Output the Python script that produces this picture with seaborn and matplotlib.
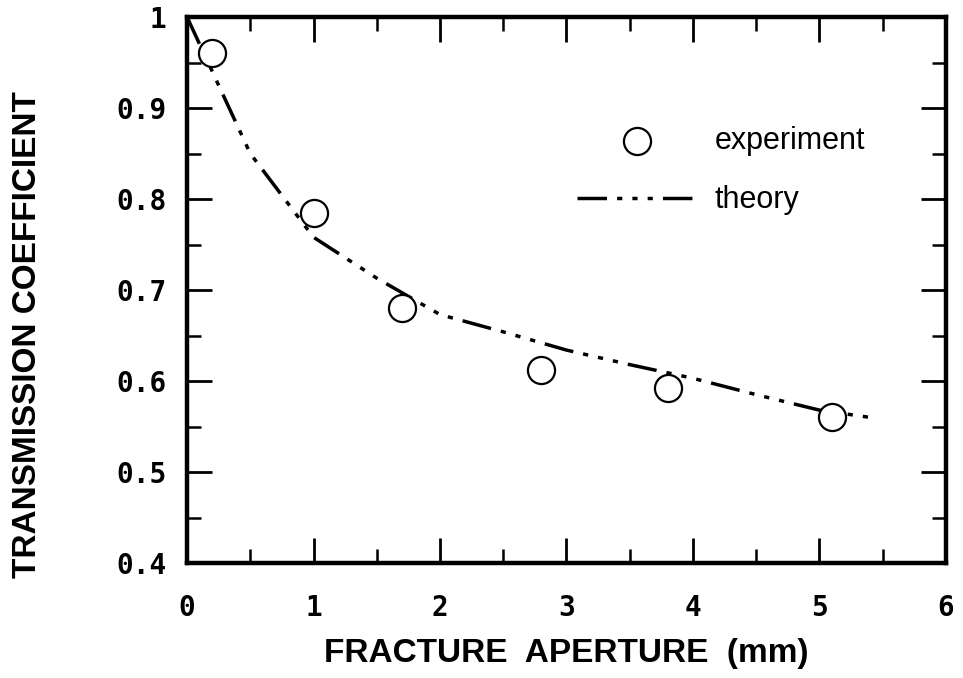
import matplotlib
matplotlib.use("Agg")
import matplotlib.pyplot as plt
import seaborn as sns
import pandas as pd
from matplotlib.ticker import MultipleLocator

# measured transmission coefficient vs. fracture aperture
exp_aperture = [0.2, 1.0, 1.7, 2.8, 3.8, 5.1]
exp_coeff = [0.96, 0.785, 0.68, 0.612, 0.592, 0.56]

# theoretical curve
theory_aperture = [0.0, 0.5, 1.0, 1.5, 2.0, 2.5, 3.0, 3.5, 4.0, 4.5, 5.0, 5.45]
theory_coeff = [1.0, 0.85, 0.758, 0.713, 0.673, 0.654, 0.634, 0.618, 0.603, 0.585, 0.568, 0.559]

x_ticks = [0, 1, 2, 3, 4, 5, 6]
y_ticks = [0.4, 0.5, 0.6, 0.7, 0.8, 0.9, 1.0]
y_tick_labels = ["0.4", "0.5", "0.6", "0.7", "0.8", "0.9", "1"]

sns.set_style("ticks")
plt.rcParams["font.family"] = ["Liberation Sans", "DejaVu Sans"]
plt.rcParams["text.color"] = "black"
plt.rcParams["axes.labelcolor"] = "black"
plt.rcParams["xtick.color"] = "black"
plt.rcParams["ytick.color"] = "black"

fig = plt.figure(figsize=(9.63, 6.78), dpi=100)
ax = fig.add_axes([0.1942, 0.1696, 0.7881, 0.8053])

exp_df = pd.DataFrame({"aperture": exp_aperture, "coeff": exp_coeff})
theory_df = pd.DataFrame({"aperture": theory_aperture, "coeff": theory_coeff})

sns.lineplot(data=theory_df, x="aperture", y="coeff", ax=ax, color="black",
             linewidth=2.5, label="theory", zorder=2, sort=False)
line = ax.lines[-1]
line.set_dashes((8.5, 2.9, 1.5, 2.9, 1.5, 2.9, 1.5, 2.9))

sns.scatterplot(data=exp_df, x="aperture", y="coeff", ax=ax, marker="o",
                s=19.5 ** 2, facecolor="white", edgecolor="black",
                linewidth=1.6, label="experiment", zorder=3)

ax.set_xlim(0, 6)
ax.set_ylim(0.4, 1.0)
ax.set_xticks(x_ticks)
ax.set_yticks(y_ticks)
ax.set_yticklabels(y_tick_labels)
ax.xaxis.set_minor_locator(MultipleLocator(0.5))
ax.yaxis.set_minor_locator(MultipleLocator(0.05))

ax.tick_params(which="both", direction="in", top=True, right=True, color="black")
ax.tick_params(which="major", length=18, width=2.0)
ax.tick_params(which="minor", length=10, width=1.8)
ax.tick_params(axis="x", which="major", pad=22)
ax.tick_params(axis="y", which="major", pad=15)

for lab in ax.get_xticklabels() + ax.get_yticklabels():
    lab.set_fontfamily(["DejaVu Sans Mono", "DejaVu Sans"])
    lab.set_fontweight("bold")
    lab.set_fontsize(20)
    lab.set_color("black")

for sp in ax.spines.values():
    sp.set_linewidth(3.2)
    sp.set_color("black")

ax.set_xlabel("FRACTURE  APERTURE  (mm)", fontsize=24, fontweight="bold",
              color="black", labelpad=12)
ax.set_ylabel("TRANSMISSION COEFFICIENT", fontsize=24, fontweight="bold",
              color="black")
ax.yaxis.set_label_coords(-0.19, 0.418)

handles, labels = ax.get_legend_handles_labels()
order = [labels.index("experiment"), labels.index("theory")]
leg = ax.legend([handles[i] for i in order], [labels[i] for i in order],
                loc="upper left", bbox_to_anchor=(0.514, 0.80), frameon=False,
                handlelength=3.9, handletextpad=0.6, labelspacing=0.95,
                borderpad=0, borderaxespad=0, prop={"size": 22})
for t in leg.get_texts():
    t.set_color("black")

fig.savefig("out.png", dpi=100, facecolor="white")
